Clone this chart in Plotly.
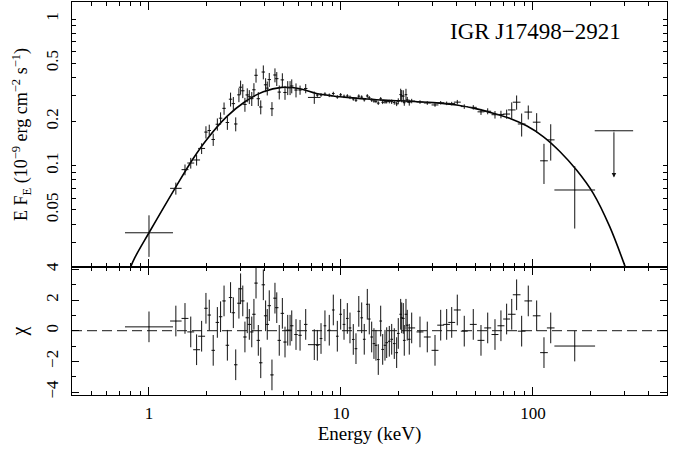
import math
import plotly.graph_objects as go

# ---------------- data ----------------
energy = [1.00, 1.38, 1.54, 1.65, 1.77, 1.88, 1.98, 2.06, 2.16, 2.27,
          2.36, 2.46, 2.56, 2.66, 2.75, 2.83, 2.94, 3.00, 3.08, 3.16,
          3.25, 3.33, 3.43, 3.52, 3.61, 3.71, 3.82, 3.94, 4.05, 4.13,
          4.23, 4.37, 4.53, 4.63, 4.77, 4.95, 5.11, 5.28, 5.43, 5.54,
          5.83, 6.12, 6.55, 7.26, 7.53, 7.87, 8.25, 8.69, 9.12, 9.57,
          9.96, 10.37, 10.79, 11.14, 11.59, 11.97, 12.38, 12.82, 13.22, 13.71,
          14.04, 14.45, 14.85, 15.21, 15.64, 16.10, 16.49, 16.95, 17.30, 17.85,
          18.37, 18.95, 19.50, 19.88, 20.46, 20.71, 21.11, 21.36, 21.80, 22.14,
          22.68, 23.35, 25.79, 28.15, 30.88, 33.06, 35.52, 37.73, 40.34, 43.86,
          48.87, 53.6, 58.1, 63.4, 68.1, 72.9, 77.5, 82.2, 87.3, 94.5,
          104.5, 114.1, 123.7, 165.0]

flux = [0.0349, 0.0701, 0.094, 0.1043, 0.1094, 0.1311, 0.1695, 0.1737, 0.1509, 0.1917,
        0.2108, 0.246, 0.197, 0.284, 0.265, 0.1925, 0.3042, 0.3428, 0.3242, 0.2616,
        0.3037, 0.2953, 0.2865, 0.3292, 0.4133, 0.2862, 0.2513, 0.4351, 0.356, 0.338,
        0.3865, 0.2446, 0.4154, 0.3921, 0.3175, 0.3846, 0.3156, 0.340, 0.340, 0.3495,
        0.3279, 0.328, 0.336, 0.292, 0.303, 0.3035, 0.3077, 0.302, 0.3105, 0.2942,
        0.3043, 0.2972, 0.2987, 0.2926, 0.2853, 0.2797, 0.298, 0.2935, 0.2815, 0.2989,
        0.2902, 0.2803, 0.2763, 0.2748, 0.2671, 0.2856, 0.2706, 0.2723, 0.2732, 0.2736,
        0.2731, 0.270, 0.264, 0.275, 0.3055, 0.2992, 0.2981, 0.2688, 0.3051, 0.2811,
        0.2693, 0.276, 0.2717, 0.2675, 0.2595, 0.2685, 0.2662, 0.265, 0.2712, 0.253,
        0.250, 0.2329, 0.2351, 0.2227, 0.2236, 0.225, 0.240, 0.271, 0.1925, 0.232,
        0.198, 0.108, 0.150, 0.0683]

flux_relerr = [0.315, 0.094, 0.084, 0.084, 0.084, 0.084, 0.096, 0.096, 0.096, 0.096,
               0.096, 0.096, 0.109, 0.109, 0.109, 0.109, 0.109, 0.109, 0.109, 0.109,
               0.109, 0.109, 0.109, 0.109, 0.109, 0.109, 0.109, 0.109, 0.109, 0.109,
               0.109, 0.109, 0.109, 0.109, 0.109, 0.109, 0.109, 0.109, 0.109, 0.109,
               0.109, 0.072, 0.072, 0.096, 0.028, 0.028, 0.028, 0.028, 0.028, 0.028,
               0.028, 0.028, 0.028, 0.028, 0.028, 0.028, 0.028, 0.028, 0.028, 0.028,
               0.028, 0.028, 0.028, 0.028, 0.028, 0.028, 0.028, 0.028, 0.028, 0.028,
               0.035, 0.035, 0.035, 0.047, 0.096, 0.096, 0.096, 0.047, 0.096, 0.047,
               0.047, 0.035, 0.028, 0.028, 0.028, 0.028, 0.028, 0.028, 0.035, 0.035,
               0.035, 0.047, 0.047, 0.059, 0.059, 0.072, 0.126, 0.111, 0.179, 0.109,
               0.152, 0.305, 0.278, 0.454]

bin_halfwidth_dex = [0.125, 0.030, 0.018, 0.018, 0.018, 0.018, 0.009, 0.009, 0.009, 0.009,
                     0.009, 0.009, 0.009, 0.009, 0.009, 0.009, 0.009, 0.009, 0.009, 0.009,
                     0.009, 0.009, 0.009, 0.009, 0.009, 0.009, 0.009, 0.009, 0.009, 0.009,
                     0.009, 0.009, 0.009, 0.009, 0.009, 0.009, 0.009, 0.009, 0.009, 0.009,
                     0.009, 0.009, 0.009, 0.033, 0.007, 0.007, 0.007, 0.007, 0.007, 0.007,
                     0.007, 0.007, 0.007, 0.007, 0.007, 0.007, 0.007, 0.007, 0.007, 0.007,
                     0.007, 0.007, 0.007, 0.007, 0.007, 0.007, 0.007, 0.007, 0.007, 0.007,
                     0.007, 0.007, 0.007, 0.007, 0.007, 0.007, 0.007, 0.007, 0.007, 0.007,
                     0.007, 0.018, 0.018, 0.018, 0.018, 0.018, 0.018, 0.018, 0.018, 0.018,
                     0.018, 0.018, 0.018, 0.018, 0.018, 0.018, 0.020, 0.020, 0.020, 0.020,
                     0.020, 0.020, 0.020, 0.106]

chi = [0.25, 0.63, 0.80, -0.08, -1.24, -0.36, 1.46, 1.02, -1.28, 0.54,
       0.91, 1.94, -0.95, 2.16, 1.17, -2.22, 1.79, 2.73, 1.94, -0.41,
       0.84, 0.41, -0.08, 1.07, 3.10, -0.63, -2.09, 2.99, 0.97, 0.41,
       1.63, -2.88, 2.12, 1.50, -0.63, 1.13, -0.74, 0.03, 0.03, 0.32,
       -0.25, -0.30, 0.41, -0.91, -0.95, -0.51, 0.32, 0.03, 1.35, -0.36,
       1.07, 0.41, 0.80, 0.18, -0.57, -1.17, 1.26, 0.84, -0.56, 1.72,
       0.76, -0.41, -0.84, -0.95, -1.88, 0.63, -1.22, -0.95, -0.78, -0.69,
       -0.56, -0.84, -1.43, -0.18, 1.07, 0.84, 0.80, -0.63, 1.07, 0.36,
       -0.56, 0.18, -0.08, -0.41, -1.28, 0.36, 0.41, 0.54, 1.35, -0.03,
       0.41, -0.63, 0.18, -0.25, 0.32, 0.76, 1.07, 2.34, -0.03, 1.94,
       0.97, -1.43, 0.18, -1.00]

model_energy = [0.76, 0.80, 0.845, 1.0, 1.366, 1.70, 2.0, 2.54, 3.16, 3.94, 4.91,
                6.12, 7.45, 9.1, 11.1, 13.6, 16.6, 20.2, 30.2, 40.0, 50.9,
                62.0, 76.0, 92.6, 113.0, 138.0, 169.0, 206.0, 251.0, 302.0, 320.0]
model_flux = [0.0166, 0.0202, 0.0237, 0.0349, 0.0701, 0.112, 0.151, 0.216, 0.273, 0.319, 0.342,
              0.335, 0.311, 0.299, 0.291, 0.285, 0.280, 0.277, 0.269, 0.259, 0.244,
              0.228, 0.210, 0.187, 0.158, 0.125, 0.093, 0.0648, 0.0384, 0.0205, 0.0165]

ul_energy = [264.0]
ul_halfwidth_dex = [0.100]
ul_flux = [0.173]
ul_flux_arrow_to = [0.083]

source_name = "IGR J17498\u22122921"

x_major = [1, 10, 100]
x_major_text = ["1", "10", "100"]
x_minor = [0.4, 0.5, 0.6, 0.7, 0.8, 0.9, 2, 3, 4, 5, 6, 7, 8, 9,
           20, 30, 40, 50, 60, 70, 80, 90, 200, 300, 400, 500]
yf_major = [0.05, 0.1, 0.2, 0.5, 1]
yf_major_text = ["0.05", "0.1", "0.2", "0.5", "1"]
yf_long = [0.1, 1]
yf_minor = [0.03, 0.04, 0.06, 0.07, 0.08, 0.09, 0.3, 0.4, 0.6, 0.7, 0.8, 0.9]
yc_major = [-4, -2, 0, 2, 4]
yc_major_text = ["\u22124", "\u22122", "0", "2", "4"]
yc_minor = [-3, -1, 1, 3]

# ---------------- derived error bars ----------------
xerr_plus = [e * (10 ** h - 1) for e, h in zip(energy, bin_halfwidth_dex)]
xerr_minus = [e * (1 - 10 ** (-h)) for e, h in zip(energy, bin_halfwidth_dex)]
ferr = [f * r for f, r in zip(flux, flux_relerr)]
chi_err = [1.0 for _ in chi]
ul_xp = [e * (10 ** h - 1) for e, h in zip(ul_energy, ul_halfwidth_dex)]
ul_xm = [e * (1 - 10 ** (-h)) for e, h in zip(ul_energy, ul_halfwidth_dex)]

INK = "#111111"
FONT = "Liberation Serif"

fig = go.Figure()

fig.add_trace(go.Scatter(
    x=model_energy, y=model_flux, mode="lines", xaxis="x2", yaxis="y2",
    line=dict(color="black", width=1.6, shape="spline"), showlegend=False,
    hoverinfo="skip"))

ex = dict(type="data", symmetric=False, array=xerr_plus, arrayminus=xerr_minus,
          color=INK, thickness=1, width=0)

fig.add_trace(go.Scatter(
    x=energy, y=flux, mode="markers", xaxis="x2", yaxis="y2",
    marker=dict(size=1, color=INK),
    error_x=ex,
    error_y=dict(type="data", array=ferr, color=INK, thickness=1, width=0),
    showlegend=False))

fig.add_trace(go.Scatter(
    x=ul_energy, y=ul_flux, mode="markers", xaxis="x2", yaxis="y2",
    marker=dict(size=1, color=INK),
    error_x=dict(type="data", symmetric=False, array=ul_xp, arrayminus=ul_xm,
                 color=INK, thickness=1, width=0),
    showlegend=False))

fig.add_trace(go.Scatter(
    x=energy, y=chi, mode="markers", xaxis="x", yaxis="y",
    marker=dict(size=1, color=INK),
    error_x=ex,
    error_y=dict(type="data", array=chi_err, color=INK, thickness=1, width=0),
    showlegend=False))

for e, f0, f1 in zip(ul_energy, ul_flux, ul_flux_arrow_to):
    fig.add_annotation(
        x=math.log10(e), y=math.log10(f1), xref="x2", yref="y2",
        ax=math.log10(e), ay=math.log10(f0), axref="x2", ayref="y2",
        showarrow=True, arrowhead=2, arrowsize=0.9, arrowwidth=1,
        arrowcolor=INK, text="")

fig.add_shape(type="line", xref="x domain", yref="y", x0=0, x1=1, y0=0, y1=0,
              line=dict(color="#444444", width=1.2, dash="10px,5px"), layer="below")

fig.add_annotation(text=source_name, xref="paper", yref="paper", x=0.926, y=0.925,
                   xanchor="right", yanchor="middle", showarrow=False,
                   font=dict(family=FONT, size=23, color="black"))

split = 128 / 393
xrange_log = [-0.401, 2.698]
yf_range = [-1.6905, 0.1159]

axis_common = dict(showgrid=False, zeroline=False, showline=True, linecolor="black",
                   linewidth=1.3, ticks="inside", mirror="ticks", tickcolor="black",
                   tickwidth=1, automargin=False, tickfont=dict(size=17))

fig.update_layout(
    width=691, height=450,
    margin=dict(l=72, r=24, t=2, b=55, autoexpand=False),
    paper_bgcolor="white", plot_bgcolor="white",
    font=dict(family=FONT, size=16, color="black"),
    xaxis=dict(axis_common, type="log", range=xrange_log, anchor="y", domain=[0, 1],
               tickmode="array", tickvals=x_major, ticktext=x_major_text, ticklen=8,
               ticklabelstandoff=2,
               minor=dict(tickmode="array", tickvals=x_minor, ticklen=4, ticks="inside",
                          tickcolor="black", showgrid=False),
               title=dict(text="Energy (keV)", font=dict(size=19), standoff=4)),
    xaxis2=dict(axis_common, type="log", range=xrange_log, anchor="y2", domain=[0, 1],
                matches="x", showticklabels=False,
                tickmode="array", tickvals=x_major, ticklen=8,
                minor=dict(tickmode="array", tickvals=x_minor, ticklen=4, ticks="inside",
                           tickcolor="black", showgrid=False)),
    yaxis=dict(axis_common, range=[-4.19, 4.15], anchor="x", domain=[0, split],
               tickmode="array", tickvals=yc_major, ticktext=yc_major_text, ticklen=7,
               tickangle=-90, ticklabelstandoff=6,
               minor=dict(tickmode="array", tickvals=yc_minor, ticklen=4, ticks="inside",
                          tickcolor="black", showgrid=False),
               title=dict(text="\u03c7", font=dict(size=20), standoff=11)),
    yaxis2=dict(axis_common, type="log", range=yf_range, anchor="x2", domain=[split, 1],
                tickmode="array", tickvals=yf_major, ticktext=yf_major_text, ticklen=4,
                tickangle=-90, ticklabelstandoff=6,
                minor=dict(tickmode="array", tickvals=yf_minor, ticklen=4, ticks="inside",
                           tickcolor="black", showgrid=False),
                title=dict(text="E F<sub>E</sub> (10<sup>\u22129</sup> erg cm<sup>\u22122</sup> s<sup>\u22121</sup>)",
                           font=dict(size=18), standoff=10)),
    yaxis3=dict(type="log", range=yf_range, overlaying="y2", anchor="x2", side="left",
                showgrid=False, zeroline=False, showline=False, ticks="inside",
                mirror="ticks", tickmode="array", tickvals=yf_long, ticklen=8,
                tickcolor="black", tickwidth=1, showticklabels=False, automargin=False),
)

fig.write_html("out.html", config={"displayModeBar": False},
               post_script="document.body.style.margin='0';document.body.style.overflow='hidden';")
